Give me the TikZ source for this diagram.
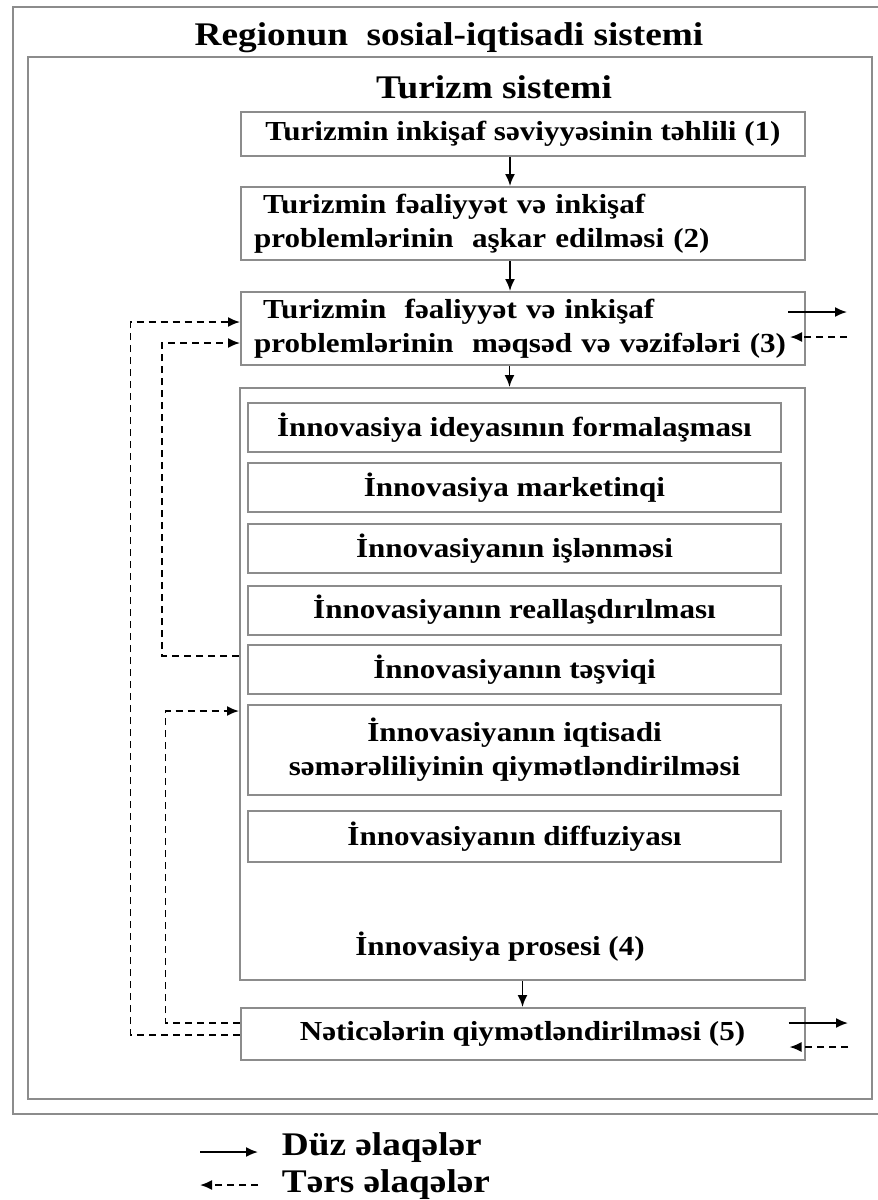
\documentclass[tikz,border=0pt]{standalone}
\usepackage{fontspec}
\setmainfont{Liberation Serif}[FakeStretch=1.13]
\usetikzlibrary{arrows.meta}
\definecolor{framegray}{gray}{0.55}
\begin{document}
\begin{tikzpicture}[x=1pt, y=-1pt, line width=1.8pt,
    frame/.style={draw=framegray, line width=2pt},
    box/.style={frame, minimum width=564pt, inner sep=0pt, font=\fontsize{27.5}{34}\selectfont\bfseries},
    subbox/.style={box, minimum width=533pt, minimum height=49pt},
    head/.style={anchor=base, inner sep=0pt, font=\fontsize{33}{38}\selectfont\bfseries},
    link/.style={-{Latex[length=12pt,width=10pt]}},
    fblink/.style={link, dash pattern=on 7pt off 5pt}]
    \useasboundingbox (0,0) rectangle (878,1200);
    % frames
    \draw[frame] (880,7) -- (13,7) -- (13,1114) -- (880,1114);
    \draw[frame] (28,57) rectangle (872,1099);
    \node[head] (reg) at (449,45) {Regionun\ \ sosial-iqtisadi sistemi};
    \node[head] (tur) at (494,98) {Turizm sistemi};
    % main steps
    \node[box, minimum height=44pt] (n1) at (523,134) {Turizmin inkişaf səviyyəsinin təhlili (1)};
    \node[box, minimum height=73pt, text width=538pt, align=left] (n2) at (523,223.5) {\ Turizmin fəaliyyət və inkişaf\\problemlərinin\ \ aşkar edilməsi (2)};
    \node[box, minimum height=73pt, text width=538pt, align=left] (n3) at (523,328.5) {\ Turizmin\ \ fəaliyyət və inkişaf\\problemlərinin\ \ məqsəd və vəzifələri (3)};
    \node[frame, minimum width=565pt, minimum height=592pt] (n4) at (522.5,684) {};
    \node[box, minimum height=52pt] (n5) at (522.5,1034) {Nəticələrin qiymətləndirilməsi (5)};
    % innovation process
    \node[subbox] (s1) at (514.5,427.5) {İnnovasiya ideyasının formalaşması};
    \node[subbox] (s2) at (514.5,487.5) {İnnovasiya marketinqi};
    \node[subbox] (s3) at (514.5,548.5) {İnnovasiyanın işlənməsi};
    \node[subbox] (s4) at (514.5,610) {İnnovasiyanın reallaşdırılması};
    \node[subbox] (s5) at (514.5,669.5) {İnnovasiyanın təşviqi};
    \node[subbox, minimum height=90pt, align=center] (s6) at (514.5,750) {İnnovasiyanın iqtisadi\\səmərəliliyinin qiymətləndirilməsi};
    \node[subbox, minimum height=51pt] (s7) at (514.5,836.5) {İnnovasiyanın diffuziyası};
    \node[anchor=base, inner sep=0pt, font=\fontsize{27.5}{34}\selectfont\bfseries] (plbl) at (500,955) {İnnovasiya prosesi (4)};
    % direct links
    \draw[link] ([xshift=-13pt]n1.south) -- ([xshift=-13pt]n2.north);
    \draw[link] ([xshift=-13pt]n2.south) -- ([xshift=-13pt]n3.north);
    \draw[link] ([xshift=-13.5pt]n3.south) -- ([xshift=-13pt]n4.north);
    \draw[link] (n4.south) -- (n5.north);
    % links to the outside
    \coordinate (out3) at (847,312);
    \coordinate (in3) at (847,337);
    \coordinate (out5) at (848,1023);
    \coordinate (in5) at (848,1047);
    \draw[link] ([xshift=-18pt,yshift=16.5pt]n3.east) -- (out3);
    \draw[fblink] (in3) -- ([xshift=-16pt,yshift=-8.5pt]n3.east);
    \draw[link] ([xshift=-17pt,yshift=11pt]n5.east) -- (out5);
    \draw[fblink] (in5) -- ([xshift=-16pt,yshift=-13pt]n5.east);
    % feedback
    \draw[fblink] ([yshift=-1pt]n5.west) -- ++(-109,0) |- ([yshift=6.5pt]n3.west);
    \draw[fblink] ([yshift=11pt]n5.west) -- ++(-74,0) |- ([yshift=-27pt]n4.west);
    \draw[fblink] ([yshift=28pt]n4.west) -- ++(-77,0) |- ([yshift=-14.5pt]n3.west);
    % legend
    \coordinate (lg1a) at (200,1152);
    \coordinate (lg1b) at (258,1152);
    \coordinate (lg2a) at (258,1185);
    \coordinate (lg2b) at (200,1185);
    \draw[link] (lg1a) -- (lg1b);
    \draw[fblink] (lg2a) -- (lg2b);
    \node[head, anchor=base west] (lgdz) at (281,1155) {Düz əlaqələr};
    \node[head, anchor=base west] (lgtr) at (281,1192) {Tərs əlaqələr};
\end{tikzpicture}
\end{document}
